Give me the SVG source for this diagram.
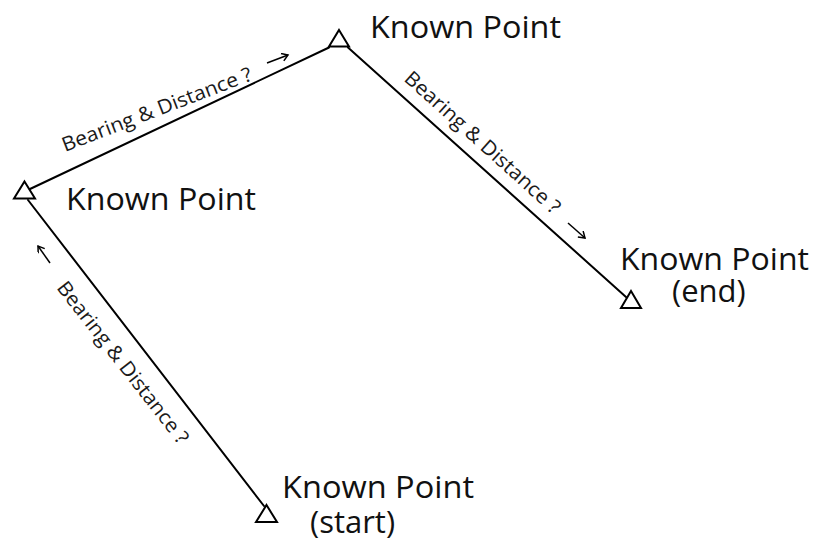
<svg xmlns="http://www.w3.org/2000/svg" width="814" height="541" viewBox="0 0 814 541">
<style>
.conn{stroke:#000;stroke-width:2;fill:none;stroke-linecap:round}
.tri{stroke:#000;stroke-width:2;fill:#fff;stroke-linejoin:miter}
.big{font-family:"Open Sans","Liberation Sans",sans-serif;font-size:31px;fill:#111}
.lab{font-family:"Open Sans","Liberation Sans",sans-serif;font-size:20px;fill:#1a1a1a}
.arr{stroke:#000;stroke-width:1.5;fill:none}
</style>
<defs>
<marker id="ah" markerWidth="10" markerHeight="10" refX="7" refY="4" orient="auto" markerUnits="userSpaceOnUse">
<path d="M1,0 L7,4 L1,8" stroke="#000" stroke-width="1.5" fill="none"/>
</marker>
</defs>
<rect width="814" height="541" fill="#fff"/>
<g id="connectors">
<line class="conn" x1="264" y1="506" x2="28" y2="200"/>
<line class="conn" x1="30" y1="189" x2="329" y2="47.5"/>
<line class="conn" x1="348" y1="47.5" x2="626" y2="297"/>
</g>
<g id="labels">
<g id="label-start-left">
<text class="lab" transform="translate(56,288) rotate(52)" textLength="200" lengthAdjust="spacingAndGlyphs">Bearing &amp; Distance ?</text>
<line class="arr" x1="50" y1="263" x2="38" y2="246" marker-end="url(#ah)"/>
</g>
<g id="label-left-top">
<text class="lab" transform="translate(65,152) rotate(-21)" textLength="202" lengthAdjust="spacingAndGlyphs">Bearing &amp; Distance ?</text>
<line class="arr" x1="267" y1="63" x2="288" y2="55" marker-end="url(#ah)"/>
</g>
<g id="label-top-end">
<text class="lab" transform="translate(403,80) rotate(42)" textLength="202" lengthAdjust="spacingAndGlyphs">Bearing &amp; Distance ?</text>
<line class="arr" x1="568" y1="223" x2="585" y2="238" marker-end="url(#ah)"/>
</g>
</g>
<g id="node-start">
<path class="tri" d="M266.5,505 L277,522 L256,522 Z"/>
<text class="big" x="282" y="498" textLength="192" lengthAdjust="spacingAndGlyphs">Known Point</text>
<text class="big" x="310" y="533">(start)</text>
</g>
<g id="node-left">
<path class="tri" d="M24.5,181.5 L35,198.5 L14,198.5 Z"/>
<text class="big" x="66" y="210" textLength="190" lengthAdjust="spacingAndGlyphs">Known Point</text>
</g>
<g id="node-top">
<path class="tri" d="M339,30 L349,46.5 L329,46.5 Z"/>
<text class="big" x="370" y="38" textLength="191" lengthAdjust="spacingAndGlyphs">Known Point</text>
</g>
<g id="node-end">
<path class="tri" d="M631,291 L641,308 L621,308 Z"/>
<text class="big" x="620" y="270" textLength="189" lengthAdjust="spacingAndGlyphs">Known Point</text>
<text class="big" x="672" y="302">(end)</text>
</g>
</svg>
